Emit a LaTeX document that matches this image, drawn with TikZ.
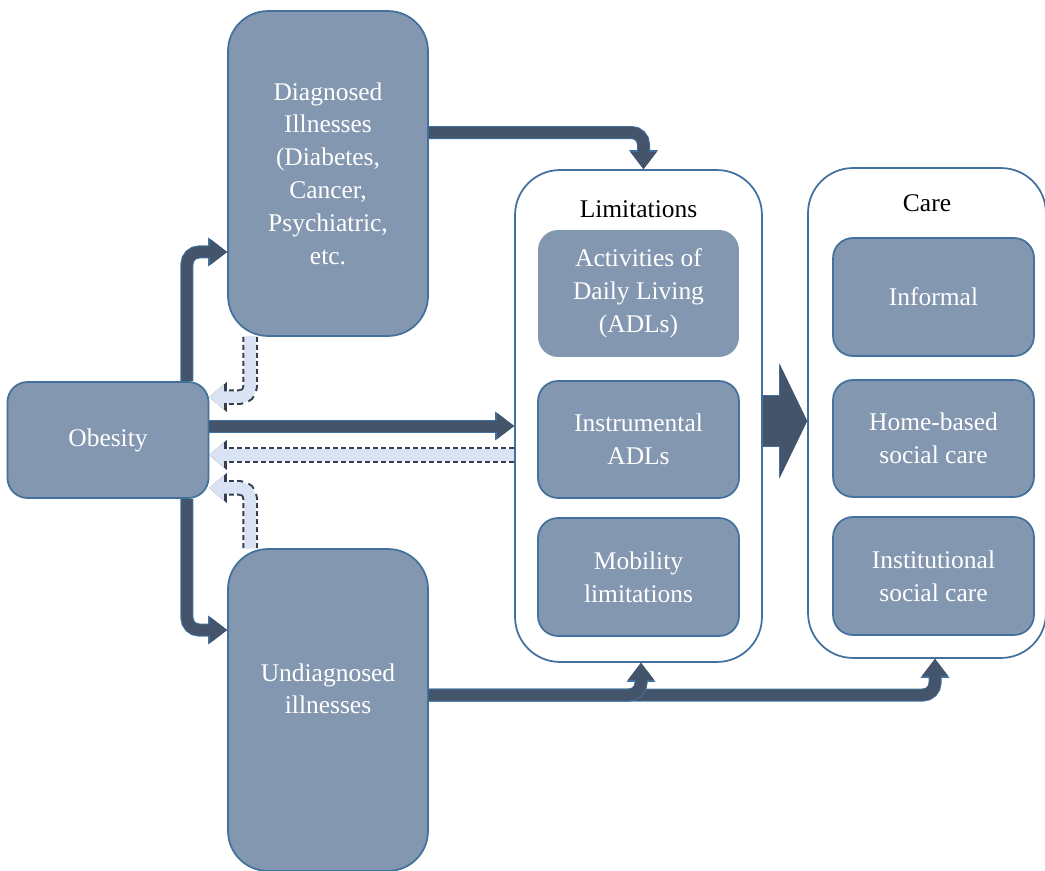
\documentclass[tikz,border=0pt]{standalone}
\usepackage{fontspec}
\setmainfont{Liberation Serif}
\usetikzlibrary{arrows.meta,calc}
\definecolor{boxfill}{HTML}{8497B0}
\definecolor{boxedge}{HTML}{41719C}
\definecolor{bandfill}{HTML}{44546A}
\definecolor{feedfill}{HTML}{DAE3F3}
\definecolor{feededge}{HTML}{333F50}

\begin{document}
\begin{tikzpicture}[x=0.02cm, y=-0.02cm,
  font=\fontsize{14.5}{18.7}\selectfont,
  box/.style={draw=boxedge, line width=0.35mm, fill=boxfill, text=white,
    align=center, rounded corners=4mm, minimum width=40.2mm},
  bigbox/.style={rounded corners=8mm, minimum width=40mm},
  frame/.style={draw=boxedge, line width=0.35mm, fill=white, rounded corners=9mm},
  title/.style={text=black},
  band/.style={draw=bandfill, line width=2.2mm, rounded corners=2.4mm,
    -{Triangle[width=5.2mm, length=3.4mm, line width=0pt]},
    preaction={draw=boxedge, line width=2.6mm,
      -{Triangle[width=5.8mm, length=3.8mm, line width=0pt]}}},
  feedback/.style={draw=feedfill, line width=2.3mm, rounded corners=2mm,
    -{Triangle[width=5mm, length=2.9mm, line width=0pt]},
    preaction={draw=feededge, line width=3.1mm, dash pattern=on 1mm off 0.6mm,
      -{Triangle[width=6mm, length=3.5mm, line width=0pt]}}},
  bigarrow/.style={draw=bandfill, line width=10.2mm,
    -{Triangle[width=22.4mm, length=5.4mm, line width=0pt]},
    preaction={draw=boxedge, line width=10.6mm,
      -{Triangle[width=23mm, length=5.6mm, line width=0pt]}}}]
  \useasboundingbox (0,0) rectangle (1045,871);

  % Outer frames
  \node[frame, minimum width=49.4mm, minimum height=98.4mm] (lim) at (638.5,416) {};
  \node[frame, minimum width=47.6mm, minimum height=98mm] (care) at (927,413) {};
  \node[title] (limtitle) at ([yshift=-8mm]lim.north) {Limitations};
  \node[title] (caretitle) at ([yshift=-7.2mm]care.north) {Care};

  % Left column
  \node[box, bigbox, minimum height=65mm] (diag) at (328,173.5)
    {Diagnosed\\Illnesses\\(Diabetes,\\Cancer,\\Psychiatric,\\etc.};
  \node[box, minimum height=23.2mm] (obes) at (108,440) {Obesity};
  \node[box, bigbox, minimum height=64.4mm] (undiag) at (328,710)
    {Undiagnosed\\illnesses\\\strut};

  % Limitations
  \node[box, draw=none, minimum height=25.4mm] (adl) at (638.5,293.5)
    {Activities of\\Daily Living\\(ADLs)};
  \node[box, minimum height=23.4mm] (iadl) at (638.5,439.5) {Instrumental\\ADLs};
  \node[box, minimum height=23.6mm] (mob) at (638.5,577) {Mobility\\limitations};

  % Care
  \node[box, minimum height=23.6mm] (informal) at (933.5,297) {Informal};
  \node[box, minimum height=23.4mm] (home) at (933.5,438.5) {Home-based\\social care};
  \node[box, minimum height=23.6mm] (inst) at (933.5,576) {Institutional\\social care};

  % Main paths
  \draw[band] ([yshift=8.2mm]diag.east) -| ([xshift=1mm]lim.north);
  \draw[band] ([xshift=15.8mm]obes.north) |- ([yshift=-15.7mm]diag.west);
  \draw[band] ([xshift=15.8mm]obes.south) |- ([yshift=16mm]undiag.west);
  \draw[band] ([yshift=2.8mm]obes.east) -- ([yshift=2.8mm]obes.east -| lim.west);
  \draw[band] ([yshift=3mm]undiag.east) -| ([xshift=1.6mm]care.south);
  \draw[band] ([yshift=3mm]undiag.east) -| ([xshift=0.5mm]lim.south);

  % Feedback paths
  \draw[feedback] ([xshift=-15.6mm]diag.south) |- ([yshift=8.6mm]obes.east);
  \draw[feedback] ([yshift=-3mm]obes.east -| lim.west) -- ([yshift=-3mm]obes.east);
  \draw[feedback] ([xshift=-15.6mm]undiag.north) |- ([yshift=-9.6mm]obes.east);

  % Limitations to care
  \draw[bigarrow] ([yshift=-1mm]lim.east) -- ([yshift=-1mm]lim.east -| care.west);
\end{tikzpicture}
\end{document}
